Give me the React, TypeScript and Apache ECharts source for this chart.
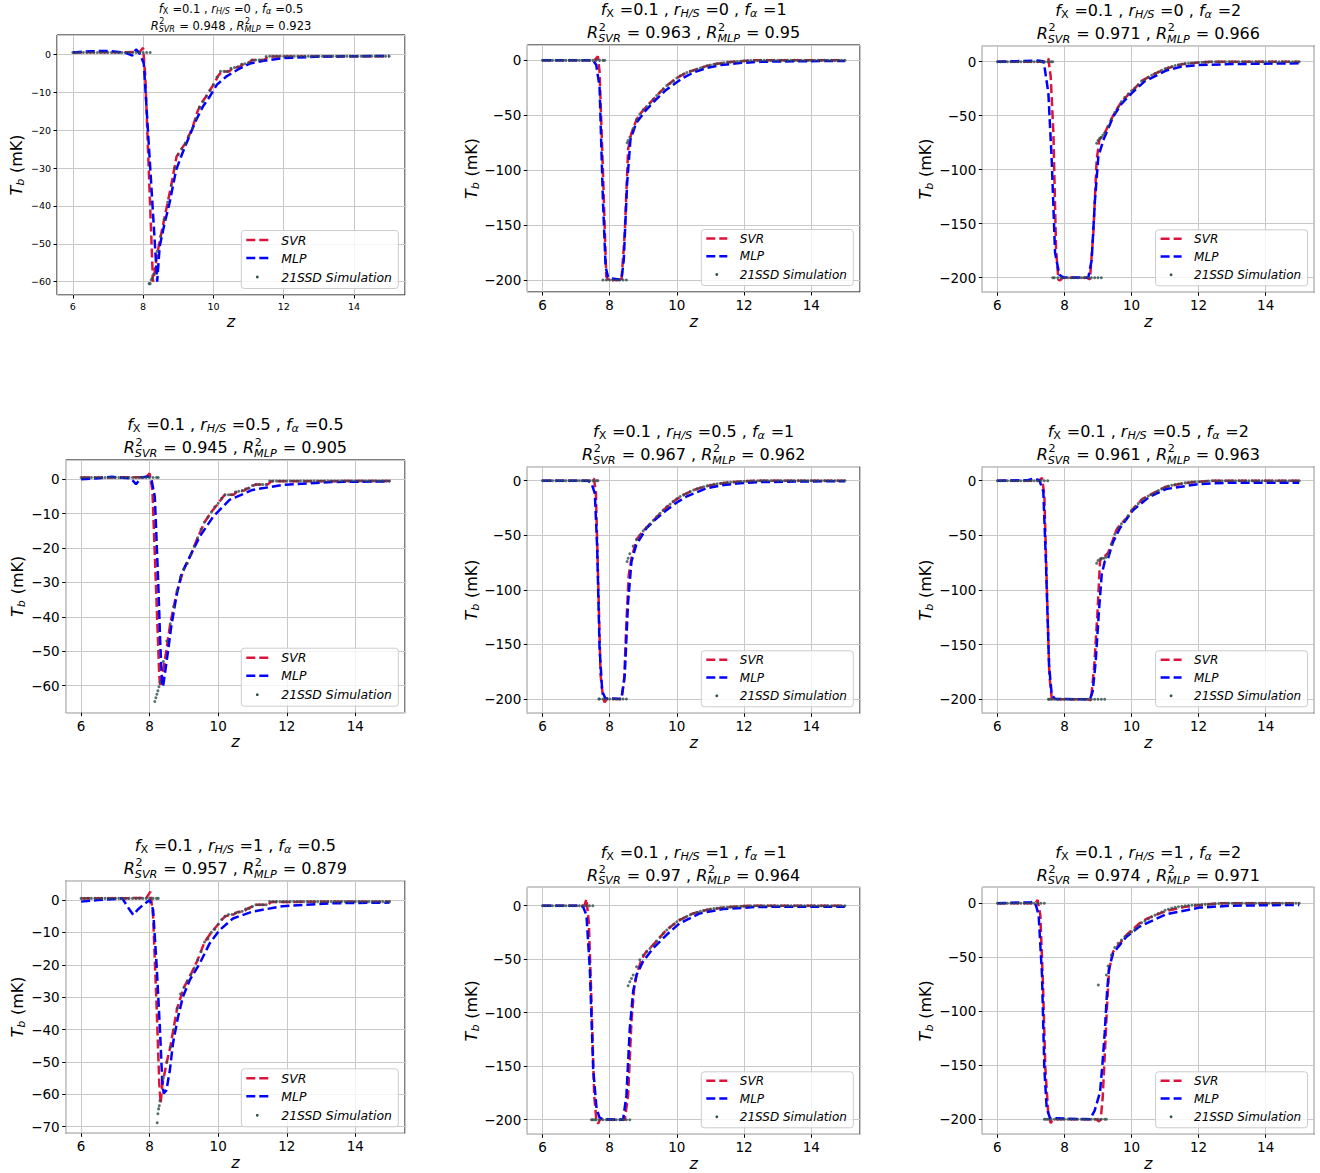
import React, { useEffect, useRef } from 'react';
import * as echarts from 'echarts';

const FONT = 'DejaVu Sans';
const SVR_COLOR = '#DC143C';
const MLP_COLOR = '#0000FF';
const SIM_COLOR = '#2F4F4F';

// ---------- labels ----------
const F_X = ['0.1', '0.1', '0.1', '0.1', '0.1', '0.1', '0.1', '0.1', '0.1'];
const R_HS = ['0', '0', '0', '0.5', '0.5', '0.5', '1', '1', '1'];
const F_ALPHA = ['0.5', '1', '2', '0.5', '1', '2', '0.5', '1', '2'];
const R2_SVR = ['0.948', '0.963', '0.971', '0.945', '0.967', '0.961', '0.957', '0.97', '0.974'];
const R2_MLP = ['0.923', '0.95', '0.966', '0.905', '0.962', '0.963', '0.879', '0.964', '0.971'];
const LEGEND_LABELS = ['SVR', 'MLP', '21SSD Simulation'];

// ---------- axes ----------
const X_MIN = 5.55;
const X_MAX = 15.45;
const X_STEP = 2;
const Y_MIN = [-63.5, -211, -213.5, -67.85, -213.1, -212.8, -72.04, -213.6, -213.9];
const Y_MAX = [5.1, 14, 14.8, 5.6, 12.8, 12.8, 5.96, 17.2, 14.8];
const Y_STEP = [10, 50, 50, 10, 50, 50, 10, 50, 50];

// ---------- simulation grid (z) ----------
const Z_GRID = [
  6.0, 6.1, 6.2, 6.3, 6.4, 6.5, 6.6, 6.7, 6.8, 6.9,
  7.0, 7.1, 7.2, 7.3, 7.4, 7.5, 7.6, 7.7, 7.8, 7.9,
  8.0, 8.1, 8.2, 8.3, 8.4, 8.5, 8.6, 8.7, 8.8, 8.9,
  9.0, 9.1, 9.2, 9.3, 9.4, 9.5, 9.6, 9.7, 9.8, 9.9,
  10.0, 10.1, 10.2, 10.3, 10.4, 10.5, 10.6, 10.7, 10.8, 10.9,
  11.0, 11.1, 11.2, 11.3, 11.4, 11.5, 11.6, 11.7, 11.8, 11.9,
  12.0, 12.1, 12.2, 12.3, 12.4, 12.5, 12.6, 12.7, 12.8, 12.9,
  13.0, 13.1, 13.2, 13.3, 13.4, 13.5, 13.6, 13.7, 13.8, 13.9,
  14.0, 14.1, 14.2, 14.3, 14.4, 14.5, 14.6, 14.7, 14.8, 14.9,
  15.0,
];

// ---------- 21SSD simulation values on Z_GRID (null = no point) ----------
const SIM_A = [
  0.5, 0.5, 0.5, 0.5, 0.5, 0.5, 0.5, 0.5, 0.5, 0.5,
  0.5, 0.5, 0.5, 0.5, 0.5, 0.5, 0.5, 0.5, 0.5, 0.5,
  0.5, 0.5, -60.5, -58, -52, -48, -43.5, -39, -34.5, -30,
  -26.5, -25, -23.5, -21.5, -19.5, -17, -14, -12.5, -11, -9.5,
  -8, -6, -4.5, -4.5, -4.5, -3.7, -3.5, -3.3, -2.6, -2.5,
  -2.2, -1.5, -1.5, -1.5, -1.5, -0.6, -0.5, -0.5, -0.5, -0.5,
  -0.5, -0.5, -0.5, -0.5, -0.5, -0.5, -0.5, -0.5, -0.5, -0.5,
  -0.5, -0.5, -0.5, -0.5, -0.5, -0.5, -0.5, -0.5, -0.5, -0.5,
  -0.5, -0.5, -0.5, -0.5, -0.5, -0.5, -0.5, -0.5, -0.5, -0.5,
  -0.5,
];
const SIM_B = [
  0, 0, 0, 0, 0, 0, 0, 0, 0, 0,
  0, 0, 0, 0, 0, 0, 0, 0, 0, -200,
  -200, -200, -200, -200, -200, -200, -70, -62, -54, -49,
  -45, -42, -39, -35.5, -32, -29, -26, -23, -21, -19,
  -16, -14, -12.5, -11, -10, -9, -8, -7, -6, -5,
  -4.2, -3.6, -3, -2.6, -2.2, -1.8, -1.5, -1.2, -1, -0.8,
  -0.5, -0.3, -0.2, -0.1, 0, 0, 0, 0, 0, 0,
  0, 0, 0, 0, 0, 0, 0, 0, 0, 0,
  0, 0, 0, 0, 0, 0, 0, 0, 0, 0,
  0,
];
const SIM_C = [
  0, 0, 0, 0, 0, 0, 0, 0, 0, 0,
  0, 0, 0, 0, 0, 0, 0, -200, -200, -200,
  -200, -200, -200, -200, -200, -200, -200, -200, -200, -200,
  -200, -200, -66, -60, -53, -47, -42, -37, -33, -30,
  -27, -24.5, -21.5, -18, -16.5, -14.5, -12.5, -11, -9.5, -8,
  -6.5, -5.5, -4.5, -3.5, -2.8, -2.3, -1.8, -1.5, -1.2, -1,
  -0.8, -0.6, -0.4, -0.2, 0, 0, 0, 0, 0, 0,
  0, 0, 0, 0, 0, 0, 0, 0, 0, 0,
  0, 0, 0, 0, 0, 0, 0, 0, 0, 0,
  0,
];
const SIM_D = [
  0.5, 0.5, 0.5, 0.5, 0.5, 0.5, 0.5, 0.5, 0.5, 0.5,
  0.5, 0.5, 0.5, 0.5, 0.5, 0.5, 0.5, 0.5, 0.5, 0.5,
  0.5, 0.5, 0.5, -59, -53, -47, -42, -37, -32.5, -28.5,
  -26, -24.5, -22, -19.5, -17, -14.5, -12.5, -11, -9.5, -8,
  -7, -5.5, -4.5, -4.5, -4.5, -3.7, -3.5, -3.3, -2.8, -2.6,
  -1.8, -1.5, -1.5, -1.5, -1.5, -0.5, -0.5, -0.5, -0.5, -0.5,
  -0.5, -0.5, -0.5, -0.5, -0.5, -0.5, -0.5, -0.5, -0.5, -0.5,
  -0.5, -0.5, -0.5, -0.5, -0.5, -0.5, -0.5, -0.5, -0.5, -0.5,
  -0.5, -0.5, -0.5, -0.5, -0.5, -0.5, -0.5, -0.5, -0.5, -0.5,
  -0.5,
];
const SIM_E = [
  0, 0, 0, 0, 0, 0, 0, 0, 0, 0,
  0, 0, 0, 0, 0, 0, 0, -200, -200, -200,
  -200, -200, -200, -200, -200, -200, -67, -60, -54, -50,
  -46, -43, -40, -36.5, -33, -30, -27, -24, -21.5, -19,
  -16.5, -14.5, -13, -11.5, -10, -8.5, -7.5, -6.5, -5.5, -4.8,
  -4, -3.4, -2.9, -2.5, -2.1, -1.8, -1.5, -1.2, -1, -0.8,
  -0.6, -0.4, -0.3, -0.2, -0.1, 0, 0, 0, 0, 0,
  0, 0, 0, 0, 0, 0, 0, 0, 0, 0,
  0, 0, 0, 0, 0, 0, 0, 0, 0, 0,
  0,
];
const SIM_F = [
  0, 0, 0, 0, 0, 0, 0, 0, 0, 0,
  0, 0, 0, 0, 0, 0, -200, -200, -200, -200,
  -200, -200, -200, -200, -200, -200, -200, -200, -200, -200,
  -200, -200, -200, -67, -58, -49, -43, -39.5, -36, -32,
  -27, -24, -21, -17.5, -16, -14, -12.5, -11, -9, -7.5,
  -6, -5, -4.2, -3.5, -3, -2.5, -2, -1.6, -1.3, -1.1,
  -0.9, -0.7, -0.5, -0.3, -0.1, 0, 0, 0, 0, 0,
  0, 0, 0, 0, 0, 0, 0, 0, 0, 0,
  0, 0, 0, 0, 0, 0, 0, 0, 0, 0,
  0,
];
const SIM_G = [
  0.5, 0.5, 0.5, 0.5, 0.5, 0.5, 0.5, 0.5, 0.5, 0.5,
  0.5, 0.5, 0.5, 0.5, 0.5, 0.5, 0.5, 0.5, 0.5, 0.5,
  0.5, 0.5, 0.5, -62, -55, -50, -45.5, -40, -33.5, -29,
  -27, -25, -23, -21, -18.5, -16, -13, -12, -10, -9,
  -7.5, -6, -5, -4.5, -4.5, -4, -3.7, -3.5, -2.8, -2.6,
  -2, -1.5, -1.5, -1.5, -1.5, -0.5, -0.5, -0.5, -0.5, -0.5,
  -0.5, -0.5, -0.5, -0.5, -0.5, -0.5, -0.5, -0.5, -0.5, -0.5,
  -0.5, -0.5, -0.5, -0.5, -0.5, -0.5, -0.5, -0.5, -0.5, -0.5,
  -0.5, -0.5, -0.5, -0.5, -0.5, -0.5, -0.5, -0.5, -0.5, -0.5,
  -0.5,
];
const SIM_H = [
  0, 0, 0, 0, 0, 0, 0, 0, 0, 0,
  0, 0, 0, 0, 0, 0, -200, -200, -200, -200,
  -200, -200, -200, -200, -200, -200, -200, -64.8, -57, -50.5,
  -46, -43, -40, -36.5, -33, -29.5, -26, -22.7, -20, -17.5,
  -15, -13, -11.5, -10, -8.5, -7.2, -6.2, -5.3, -4.5, -3.8,
  -3.2, -2.7, -2.3, -2, -1.7, -1.4, -1.1, -0.9, -0.7, -0.6,
  -0.4, -0.3, -0.2, -0.1, 0, 0, 0, 0, 0, 0,
  0, 0, 0, 0, 0, 0, 0, 0, 0, 0,
  0, 0, 0, 0, 0, 0, 0, 0, 0, 0,
  0,
];
const SIM_I = [
  0, 0, 0, 0, 0, 0, 0, 0, 0, 0,
  0, 0, 0, 0, 0, -200, -200, -200, -200, -200,
  -200, -200, -200, -200, -200, -200, -200, -200, -200, -200,
  -200, -200, -200, -58, -48, -41, -37, -34, -31, -28.5,
  -26.5, -24, -21, -18, -16.5, -14.5, -12.5, -11, -9.5, -8,
  -6.5, -5.5, -4.5, -3.8, -3.2, -2.7, -2.3, -2, -1.8, -1.6,
  -1.5, -1.2, -1, -0.8, -0.6, -0.4, -0.2, -0.1, 0, 0,
  0, 0, 0, 0, 0, 0, 0, 0, 0, 0,
  0, 0, 0, 0, 0, 0, 0, 0, 0, 0,
  0,
];

// extra simulation points off the grid [z, Tb]
const SIM_EXTRA_A = [[8.2, 0.5], [8.17, -60.5], [8.23, -59.5], [8.26, -59]];
const SIM_EXTRA_B = [[7.85, 0], [7.8, -200], [8.52, -75], [8.55, -73]];
const SIM_EXTRA_C = [[7.65, 0], [7.65, -200], [8.96, -75.5], [9.0, -73], [9.05, -71], [9.1, -70], [9.15, -68]];
const SIM_EXTRA_D = [[8.25, 0.5], [8.15, -64.6], [8.18, -63.5], [8.21, -62.5], [8.24, -61.5], [8.27, -60.3]];
const SIM_EXTRA_E = [[7.65, 0], [7.68, -200], [8.52, -74], [8.55, -71]];
const SIM_EXTRA_F = [[7.52, -200], [7.55, -200], [8.96, -75.6], [9.0, -73], [9.06, -71.6], [9.12, -71], [9.18, -71], [9.25, -70]];
const SIM_EXTRA_G = [[8.25, 0.5], [8.22, -68.8], [8.24, -66], [8.26, -64.5], [8.28, -63.5]];
const SIM_EXTRA_H = [[7.46, -200], [7.5, -200], [7.55, -200], [8.55, -74.8], [8.6, -71], [8.65, -68]];
const SIM_EXTRA_I = [[7.4, -200], [7.45, -200], [9.01, -75.6], [9.25, -200], [9.25, -66.4]];

// ---------- SVR predictions [z, Tb] ----------
const SVR_A = [[6, 0.5], [7.9, 0.6], [8.0, 1.7], [8.06, -5.5], [8.15, -27.8], [8.22, -45], [8.28, -60], [8.32, -58], [8.38, -54], [8.45, -50.3], [8.6, -43.5], [8.8, -34.5], [8.95, -27], [9.05, -25.5], [9.2, -23.5], [9.4, -19.5], [9.55, -15], [9.65, -13], [9.8, -11], [10.0, -8], [10.15, -5.5], [10.25, -4.5], [10.45, -4.5], [10.55, -3.6], [10.75, -3.3], [10.85, -2.6], [11.0, -2.3], [11.1, -1.5], [11.45, -1.5], [11.55, -0.6], [15, -0.5]];
const SVR_B = [[6, 0], [7.55, 0], [7.65, 3.6], [7.7, -10], [7.8, -100], [7.9, -197], [8.0, -201.5], [8.1, -200], [8.3, -200], [8.35, -202], [8.45, -157], [8.55, -81], [8.65, -66], [8.8, -54], [8.9, -49], [9.1, -42], [9.3, -35.5], [9.5, -29], [9.7, -23], [10.0, -16], [10.3, -11], [10.6, -8], [10.9, -5], [11.2, -3], [11.5, -1.8], [11.9, -0.8], [12.2, 0], [15, 0]];
const SVR_C = [[6, 0], [7.4, 0], [7.52, 3], [7.59, -14], [7.67, -66], [7.75, -174], [7.82, -202], [7.87, -202.5], [7.95, -200], [8.66, -200], [8.76, -201.5], [8.86, -159], [8.96, -91], [9.04, -72.5], [9.2, -66], [9.45, -50], [9.7, -37], [10.05, -26], [10.34, -17], [10.7, -11], [11.03, -6.5], [11.5, -2.3], [12, -0.8], [12.4, 0], [15, 0]];
const SVR_D = [[6, 0.5], [7.9, 0.6], [8.0, 1.7], [8.08, -3.1], [8.18, -30], [8.28, -57], [8.31, -60.3], [8.39, -56], [8.49, -49.6], [8.6, -42], [8.8, -32.5], [9.0, -26], [9.2, -22], [9.4, -17], [9.6, -12.5], [9.8, -9.5], [10.0, -7], [10.15, -5], [10.2, -4.5], [10.45, -4.5], [10.55, -3.6], [10.75, -3.3], [10.85, -2.7], [11.0, -2], [11.1, -1.5], [11.45, -1.5], [11.55, -0.6], [15, -0.5]];
const SVR_E = [[6, 0], [7.45, 0], [7.53, 2], [7.59, -10], [7.66, -92.5], [7.73, -178], [7.8, -198], [7.85, -203], [7.92, -200], [8.35, -200], [8.43, -184], [8.5, -129], [8.57, -86], [8.65, -71], [8.8, -54], [9.0, -46], [9.3, -36.5], [9.6, -27], [9.9, -19], [10.2, -13], [10.5, -8.5], [10.9, -4.8], [11.4, -2.1], [11.9, -0.8], [12.3, 0], [15, 0]];
const SVR_F = [[6, 0], [7.25, 0], [7.33, 2.7], [7.4, -13], [7.47, -92], [7.55, -178], [7.62, -199], [7.66, -201], [7.72, -200], [8.71, -200], [8.79, -201], [8.89, -168.6], [8.98, -123], [9.06, -74], [9.12, -69], [9.2, -69], [9.3, -66], [9.4, -58], [9.55, -45], [9.7, -39], [9.85, -34.5], [10.05, -25.5], [10.34, -16.5], [10.74, -10], [11.03, -5.5], [11.53, -2.4], [12.02, -0.9], [12.4, 0], [15, 0]];
const SVR_G = [[6, 0.5], [7.9, 0.6], [8.02, 2.6], [8.1, -5], [8.2, -32], [8.28, -56.6], [8.32, -62.8], [8.37, -57], [8.49, -50.5], [8.6, -45.5], [8.8, -33.5], [9.0, -27], [9.2, -23], [9.4, -18.5], [9.6, -13], [9.8, -10], [10.0, -7.5], [10.2, -5], [10.45, -4.5], [10.55, -3.8], [10.75, -3.5], [10.85, -2.7], [11.0, -2], [11.1, -1.5], [11.45, -1.5], [11.55, -0.6], [15, -0.5]];
const SVR_H = [[6, 0], [7.25, 0], [7.31, 6.2], [7.38, -15], [7.46, -89.7], [7.54, -177], [7.61, -202], [7.66, -203.4], [7.72, -199], [7.8, -200], [8.45, -200], [8.55, -177], [8.65, -108], [8.73, -77], [8.8, -64.8], [8.94, -50.8], [9.09, -43], [9.29, -36.8], [9.69, -22.7], [10.08, -13.4], [10.48, -7.2], [10.88, -4], [11.45, -1.6], [12.05, -0.3], [12.3, 0], [15, 0]];
const SVR_I = [[6, 0], [7.12, 0], [7.2, 3], [7.28, -10.8], [7.36, -75.6], [7.43, -152.8], [7.52, -196], [7.59, -203.7], [7.65, -200], [8.95, -200], [9.03, -202], [9.08, -200], [9.14, -180], [9.21, -135], [9.27, -95], [9.33, -62], [9.45, -44.8], [9.85, -29.3], [10.24, -18.5], [10.44, -14.5], [11.03, -7.1], [11.62, -3.1], [12.31, -0.9], [12.6, 0], [15, 0]];

// ---------- MLP predictions [z, Tb] ----------
const MLP_A = [[6, 0.5], [6.5, 0.8], [7.0, 0.9], [7.5, 0.4], [7.7, -0.3], [7.8, 1.3], [7.9, 0.2], [8.02, -2.4], [8.1, -14.5], [8.2, -29.7], [8.3, -44.8], [8.4, -60], [8.43, -56], [8.47, -50.8], [8.6, -45], [8.75, -39.3], [8.94, -30.5], [9.1, -26.5], [9.23, -23.5], [9.51, -17.3], [9.7, -13.8], [9.89, -11.2], [10.1, -8], [10.36, -5.9], [10.7, -4], [11.05, -2.4], [11.5, -1.6], [12.0, -1.0], [13.0, -0.6], [15, -0.4]];
const MLP_B = [[6, 0], [7.5, 0], [7.6, -4], [7.7, -24], [7.8, -127], [7.88, -188], [7.95, -197], [8.0, -198.5], [8.35, -200], [8.42, -182], [8.52, -112], [8.62, -72], [8.79, -57], [9.09, -45], [9.4, -35], [9.69, -26.7], [10.18, -16], [10.5, -11], [10.88, -7], [11.3, -4.3], [11.87, -2.4], [12.5, -1.3], [13.5, -0.8], [15, -0.5]];
const MLP_C = [[6, 0], [7.2, 1], [7.35, 0.5], [7.39, -1.5], [7.52, -29], [7.62, -91], [7.72, -177], [7.85, -197.5], [7.97, -199.7], [8.71, -200], [8.81, -184], [8.91, -128], [9.01, -88], [9.16, -72.5], [9.45, -51], [9.7, -39], [10.05, -27.8], [10.4, -18], [11.03, -8.3], [11.5, -4.5], [12.02, -3.1], [13, -2.2], [15, -1.5]];
const MLP_D = [[6, 0], [6.5, 0.3], [6.9, 0.7], [7.4, 0.3], [7.52, -0.5], [7.6, -1.4], [7.68, -0.5], [7.75, 0.5], [7.95, 0.8], [8.05, 0], [8.15, -5], [8.25, -30], [8.31, -48], [8.36, -59], [8.39, -60.3], [8.46, -55.4], [8.54, -49.6], [8.63, -42.8], [8.78, -34], [8.92, -27.8], [9.17, -22.5], [9.46, -16.7], [9.85, -10.9], [10.33, -6], [11.0, -3.1], [11.88, -1.65], [13.3, -0.8], [15, -0.6]];
const MLP_E = [[6, 0], [7.35, 0], [7.46, -2.4], [7.56, -11.6], [7.63, -62], [7.7, -153], [7.78, -193], [7.87, -199.4], [8.35, -200], [8.45, -178], [8.55, -111], [8.65, -74], [8.79, -59], [9.09, -43.7], [9.4, -34.5], [9.69, -27], [10.0, -20], [10.28, -14.7], [10.88, -7], [11.4, -4], [11.87, -2.4], [12.5, -1.3], [13.5, -0.8], [15, -0.5]];
const MLP_F = [[6, 0], [6.9, 0.5], [7.1, 2], [7.25, 0.5], [7.37, -10], [7.45, -77], [7.54, -168.6], [7.62, -196], [7.72, -199.7], [8.76, -200], [8.84, -193], [8.93, -166], [9.02, -123], [9.11, -86], [9.2, -74], [9.3, -71], [9.45, -56], [9.65, -43.6], [10.05, -26.8], [10.54, -14.6], [11.03, -7.6], [12.02, -3], [13, -1.8], [15, -1.8]];
const MLP_G = [[6, -0.5], [6.5, 0], [7.0, 0.3], [7.2, 0.5], [7.42, -3.1], [7.52, -4.6], [7.65, -3], [7.81, -1.5], [8.0, 0], [8.1, -3], [8.2, -19.6], [8.3, -40], [8.37, -56.6], [8.41, -59.7], [8.49, -58.7], [8.59, -52.5], [8.68, -44.3], [8.83, -36], [8.97, -29.9], [9.17, -24.7], [9.46, -19.6], [9.75, -13.4], [10.04, -9.3], [10.43, -5.7], [11.0, -3.6], [11.88, -1.9], [13.3, -1], [15, -0.8]];
const MLP_H = [[6, 0], [7.1, 0], [7.21, -1], [7.31, -8.7], [7.41, -58.6], [7.51, -152], [7.61, -189.4], [7.7, -198], [7.8, -199.4], [8.4, -200], [8.5, -177], [8.6, -114.6], [8.7, -80], [8.8, -64.8], [8.99, -52.3], [9.29, -39.9], [9.69, -27.4], [10.08, -16.5], [10.68, -7.2], [11.37, -3.1], [12.36, -1.2], [13.5, -0.9], [15, -0.9]];
const MLP_I = [[6, 0], [7.0, 1], [7.08, 1.5], [7.15, -2], [7.23, -10.8], [7.33, -66], [7.4, -152.8], [7.47, -189.8], [7.57, -199], [8.76, -200], [8.9, -192], [9.06, -175], [9.13, -150], [9.2, -120], [9.27, -82], [9.33, -60], [9.45, -46.3], [9.85, -30.9], [10.24, -21.6], [11.03, -10.2], [12.02, -4], [13, -2.2], [15, -1.5]];

const SIM = [SIM_A, SIM_B, SIM_C, SIM_D, SIM_E, SIM_F, SIM_G, SIM_H, SIM_I];
const SIM_EXTRA = [SIM_EXTRA_A, SIM_EXTRA_B, SIM_EXTRA_C, SIM_EXTRA_D, SIM_EXTRA_E, SIM_EXTRA_F, SIM_EXTRA_G, SIM_EXTRA_H, SIM_EXTRA_I];
const SVR = [SVR_A, SVR_B, SVR_C, SVR_D, SVR_E, SVR_F, SVR_G, SVR_H, SVR_I];
const MLP = [MLP_A, MLP_B, MLP_C, MLP_D, MLP_E, MLP_F, MLP_G, MLP_H, MLP_I];

// ---------- layout (pixels) ----------
const PANEL_BOX = [
  [57, 35, 405, 295],
  [527.3, 45, 860, 292],
  [982.3, 45.7, 1314.3, 292.3],
  [65.7, 460, 405, 712.7],
  [527.3, 466.7, 860, 713.3],
  [982.3, 466.7, 1314.3, 713.3],
  [65.7, 880.7, 405, 1133.3],
  [527.3, 887.3, 860, 1134.3],
  [982.3, 887.3, 1314.3, 1134.3],
];
const YLABEL_X = [17.5, 471.7, 925.8, 18.3, 471.7, 925.8, 18.3, 471.7, 925.8];
const TITLE_FS = [11.5, 16, 16, 16, 16, 16, 16, 16, 16];
const TICK_FS = [9.5, 13.5, 13.5, 13.5, 13.5, 13.5, 13.5, 13.5, 13.5];
const XNAME_GAP = [18, 21, 21, 21, 21, 21, 21, 21, 21];

let measureCtx: CanvasRenderingContext2D | null = null;
function measure(text: string, size: number, italic: boolean): number {
  if (!measureCtx) measureCtx = document.createElement('canvas').getContext('2d');
  if (!measureCtx) return text.length * size * 0.6;
  measureCtx.font = `${italic ? 'italic ' : ''}${size}px "${FONT}"`;
  return measureCtx.measureText(text).width;
}

function txt(s: string, x: number, baseline: number, size: number, italic: boolean) {
  return {
    type: 'text',
    x,
    y: baseline - 0.346 * size,
    z: 100,
    silent: true,
    style: {
      text: s,
      fontSize: size,
      fontFamily: FONT,
      fontStyle: italic ? 'italic' : 'normal',
      fill: '#000',
      align: 'left',
      verticalAlign: 'middle',
      textAlign: 'left',
      textVerticalAlign: 'middle',
    },
  };
}

type Piece = { t?: string; it?: boolean; sub?: boolean; stack?: [string, string] };

function layoutPieces(pieces: Piece[], fs: number, cx: number, base: number) {
  const ss = fs * 0.7;
  const widths = pieces.map((p) =>
    p.stack
      ? Math.max(measure(p.stack[0], ss, false), measure(p.stack[1], ss, true)) + 0.06 * fs
      : measure(p.t as string, p.sub ? ss : fs, !!p.it) + (p.sub ? 0.04 * fs : 0)
  );
  const total = widths.reduce((a, b) => a + b, 0);
  let x = cx - total / 2;
  const out: any[] = [];
  pieces.forEach((p, i) => {
    if (p.stack) {
      out.push(txt(p.stack[0], x + 0.04 * fs, base - 0.46 * fs, ss, false));
      out.push(txt(p.stack[1], x, base + 0.23 * fs, ss, true));
    } else {
      const s = p.t as string;
      const size = p.sub ? ss : fs;
      const lead = s.length - s.replace(/^\s+/, '').length;
      const off = lead > 0 ? measure(' '.repeat(lead), size, !!p.it) : 0;
      const b = p.sub ? base + 0.15 * fs : base;
      out.push(txt(s.trim(), x + off, b, size, !!p.it));
    }
    x += widths[i];
  });
  return out;
}

const fmtTick = (v: number) => (v < 0 ? '\u2212' + String(-v) : String(v));

function buildOption() {
  const grid: any[] = [];
  const xAxis: any[] = [];
  const yAxis: any[] = [];
  const series: any[] = [];
  const graphic: any[] = [];

  for (let p = 0; p < 9; p++) {
    const [l, t, r, b] = PANEL_BOX[p];
    grid.push({
      left: l, top: t, width: r - l, height: b - t,
      show: true, borderColor: '#000', borderWidth: 1, backgroundColor: 'transparent',
      containLabel: false, outerBoundsMode: 'none',
    });
    const labelCommon = { color: '#000', fontFamily: FONT, fontSize: TICK_FS[p], showMinLabel: false, showMaxLabel: false, margin: 6, formatter: fmtTick };
    xAxis.push({
      type: 'value', gridIndex: p, min: X_MIN, max: X_MAX, splitNumber: 5, minInterval: X_STEP, maxInterval: X_STEP,
      axisLine: { show: false, onZero: false },
      axisTick: { show: true, inside: false, length: 3.5, lineStyle: { color: '#000', width: 1 } },
      axisLabel: labelCommon,
      splitLine: { show: true, lineStyle: { color: '#c8c8c8', width: 1 } },
      name: 'z', nameLocation: 'middle', nameGap: XNAME_GAP[p],
      nameTextStyle: { fontStyle: 'italic', fontSize: 16, fontFamily: FONT, color: '#000' },
    });
    yAxis.push({
      type: 'value', gridIndex: p, min: Y_MIN[p], max: Y_MAX[p], splitNumber: 5, minInterval: Y_STEP[p], maxInterval: Y_STEP[p],
      axisLine: { show: false, onZero: false },
      axisTick: { show: true, inside: false, length: 3.5, lineStyle: { color: '#000', width: 1 } },
      axisLabel: labelCommon,
      splitLine: { show: true, lineStyle: { color: '#c8c8c8', width: 1 } },
    });

    series.push({
      type: 'line', xAxisIndex: p, yAxisIndex: p, data: SVR[p], showSymbol: false, symbol: 'none', silent: true, z: 3,
      lineStyle: { color: SVR_COLOR, width: 2.5, type: [9, 4] }, itemStyle: { color: SVR_COLOR },
    });
    series.push({
      type: 'line', xAxisIndex: p, yAxisIndex: p, data: MLP[p], showSymbol: false, symbol: 'none', silent: true, z: 4,
      lineStyle: { color: MLP_COLOR, width: 2.5, type: [9, 4] }, itemStyle: { color: MLP_COLOR },
    });
    const simPts = Z_GRID.map((z, i) => [z, SIM[p][i]]).filter((d) => d[1] !== null && d[1] !== undefined).concat(SIM_EXTRA[p]);
    series.push({
      type: 'scatter', xAxisIndex: p, yAxisIndex: p, data: simPts, symbol: 'circle', symbolSize: 3, silent: true, z: 5,
      itemStyle: { color: SIM_COLOR },
    });

    // title
    const fs = TITLE_FS[p];
    const cx = (l + r) / 2;
    const base2 = t - (fs === 16 ? 6.5 : 5.5);
    const base1 = base2 - 1.44 * fs;
    const line1: Piece[] = [
      { t: 'f', it: true }, { t: 'X', sub: true }, { t: ' =' + F_X[p] + ' , ' },
      { t: 'r', it: true }, { t: 'H/S', sub: true, it: true }, { t: ' =' + R_HS[p] + ' , ' },
      { t: 'f', it: true }, { t: '\u03B1', sub: true, it: true }, { t: ' =' + F_ALPHA[p] },
    ];
    const line2: Piece[] = [
      { t: 'R', it: true }, { stack: ['2', 'SVR'] }, { t: ' = ' + R2_SVR[p] + ' , ' },
      { t: 'R', it: true }, { stack: ['2', 'MLP'] }, { t: ' = ' + R2_MLP[p] },
    ];
    graphic.push(...layoutPieces(line1, fs, cx, base1));
    graphic.push(...layoutPieces(line2, fs, cx, base2));

    // y label
    const ylab: Piece[] = [{ t: 'T', it: true }, { t: 'b', sub: true, it: true }, { t: ' (mK)' }];
    graphic.push({
      type: 'group', x: YLABEL_X[p], y: (t + b) / 2, rotation: Math.PI / 2, z: 100,
      children: layoutPieces(ylab, 16, 0, 0.31 * 16),
    });

    // legend
    const col0 = p % 3 === 0;
    const bw = col0 ? 157 : 152;
    const bh = col0 ? 58 : 56;
    const lfs = col0 ? 12.4 : 12;
    const bx = r - 6.7 - bw;
    const by = b - 6.5 - bh;
    const rows = col0 ? [9.5, 27.5, 46.5] : [9, 26.8, 45];
    const tx = bx + (col0 ? 40 : 38.5);
    const hx1 = bx + 5;
    const hx2 = bx + (col0 ? 27 : 26);
    graphic.push({
      type: 'rect', z: 100, silent: true,
      shape: { x: bx, y: by, width: bw, height: bh, r: 3 },
      style: { fill: 'rgba(255,255,255,0.8)', stroke: '#cccccc', lineWidth: 1 },
    });
    graphic.push({
      type: 'line', z: 101, silent: true,
      shape: { x1: hx1, y1: by + rows[0], x2: hx2, y2: by + rows[0] },
      style: { stroke: SVR_COLOR, lineWidth: 2.5, lineDash: [9, 4] },
    });
    graphic.push({
      type: 'line', z: 101, silent: true,
      shape: { x1: hx1, y1: by + rows[1], x2: hx2, y2: by + rows[1] },
      style: { stroke: MLP_COLOR, lineWidth: 2.5, lineDash: [9, 4] },
    });
    graphic.push({
      type: 'circle', z: 101, silent: true,
      shape: { cx: (hx1 + hx2) / 2, cy: by + rows[2], r: 1.4 },
      style: { fill: SIM_COLOR },
    });
    LEGEND_LABELS.forEach((lab, i) => {
      graphic.push(txt(lab, tx, by + rows[i] + 0.36 * lfs, lfs, true));
    });
  }

  return {
    animation: false,
    backgroundColor: '#ffffff',
    textStyle: { fontFamily: FONT },
    grid,
    xAxis,
    yAxis,
    series,
    graphic,
  };
}

export default function App() {
  const ref = useRef<HTMLDivElement>(null);
  useEffect(() => {
    document.body.style.margin = '0';
    if (!ref.current) return;
    const chart = echarts.init(ref.current, null, { renderer: 'svg' });
    chart.setOption(buildOption() as any);
    return () => chart.dispose();
  }, []);
  return <div ref={ref} style={{ width: 1320, height: 1173 }} />;
}
